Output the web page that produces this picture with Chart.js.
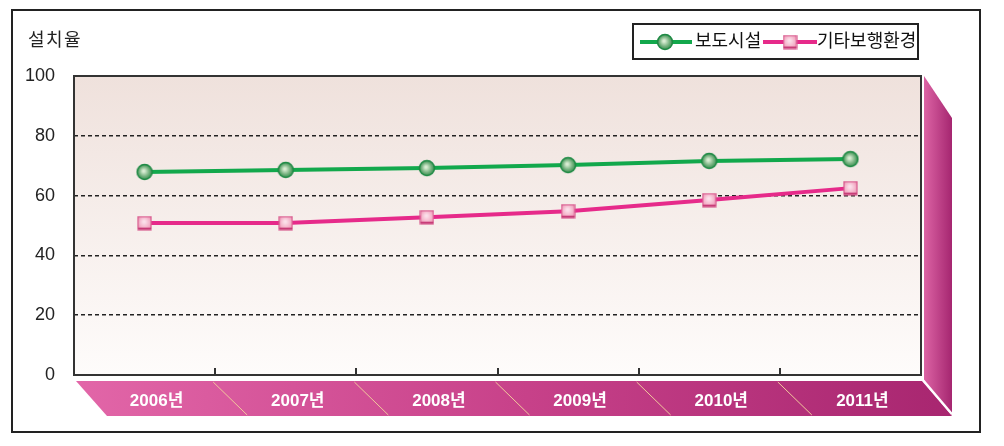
<!DOCTYPE html>
<html>
<head>
<meta charset="utf-8">
<script src="https://cdn.jsdelivr.net/npm/chart.js@4.4.0/dist/chart.umd.min.js"></script>
<style>
  html, body { margin: 0; padding: 0; background: #fff; }
  #wrap { width: 1004px; height: 446px; position: relative; }
</style>
</head>
<body>
<div id="wrap"><canvas id="chart" width="1004" height="446"></canvas></div>
<script>
// chart data
const years = ['2006년', '2007년', '2008년', '2009년', '2010년', '2011년'];
const sidewalk = [67.9, 68.6, 69.2, 70.2, 71.6, 72.2];
const otherEnv = [50.8, 50.8, 52.8, 54.8, 58.5, 62.5];
const yTicks = [0, 20, 40, 60, 80, 100];

const seriesNames = ['보도시설', '기타보행환경'];
const FONT = '"Liberation Sans", "Noto Sans CJK KR", sans-serif';

// marker images
function makeCircle() {
  const c = document.createElement('canvas');
  c.width = 18; c.height = 18;
  const g = c.getContext('2d');
  const grd = g.createRadialGradient(8, 8, 1, 9, 9, 8);
  grd.addColorStop(0, '#d8ecd2');
  grd.addColorStop(0.6, '#6fae7a');
  grd.addColorStop(1, '#2f8a4a');
  g.beginPath();
  g.arc(9, 9, 7.5, 0, Math.PI * 2);
  g.fillStyle = grd;
  g.fill();
  g.lineWidth = 1.5;
  g.strokeStyle = '#1e8a44';
  g.stroke();
  return c;
}
function makeSquare() {
  const c = document.createElement('canvas');
  c.width = 15; c.height = 15;
  const g = c.getContext('2d');
  const grd = g.createRadialGradient(7, 6, 1, 7.5, 7.5, 9);
  grd.addColorStop(0, '#fbe0ea');
  grd.addColorStop(0.7, '#f2a5c0');
  grd.addColorStop(1, '#e07aa0');
  g.fillStyle = grd;
  g.fillRect(1, 1, 13, 13);
  g.lineWidth = 1.2;
  g.strokeStyle = '#d85a8e';
  g.strokeRect(1, 1, 13, 13);
  g.fillStyle = '#c83c78';
  g.fillRect(1, 12, 13, 2);
  return c;
}
const circleImg = makeCircle();
const squareImg = makeSquare();

// frame, 3D faces, legend and title
const decorPlugin = {
  id: 'decor',
  beforeDraw(chart) {
    const { ctx, chartArea: a, scales } = chart;
    ctx.save();
    // outer frame
    ctx.strokeStyle = '#222';
    ctx.lineWidth = 2;
    ctx.strokeRect(12, 10, 968, 422);

    // plot background
    const bg = ctx.createLinearGradient(0, a.top, 0, a.bottom);
    bg.addColorStop(0, '#efe1dc');
    bg.addColorStop(1, '#fefcfb');
    ctx.fillStyle = bg;
    ctx.fillRect(a.left, a.top, a.right - a.left, a.bottom - a.top);

    // right face
    const rg = ctx.createLinearGradient(a.right, 0, a.right + 31, 0);
    rg.addColorStop(0, '#e26aaa');
    rg.addColorStop(1, '#a52670');
    ctx.fillStyle = rg;
    ctx.beginPath();
    ctx.moveTo(a.right + 3, a.top);
    ctx.lineTo(a.right + 31, a.top + 42);
    ctx.lineTo(a.right + 31, a.bottom + 40);
    ctx.lineTo(a.right + 3, a.bottom + 5);
    ctx.closePath();
    ctx.fill();

    // bottom face
    const bgr = ctx.createLinearGradient(a.left, 0, a.right + 31, 0);
    bgr.addColorStop(0, '#e266a8');
    bgr.addColorStop(0.5, '#c8428a');
    bgr.addColorStop(1, '#a82670');
    ctx.fillStyle = bgr;
    ctx.beginPath();
    ctx.moveTo(a.left + 2, a.bottom + 6);
    ctx.lineTo(a.right + 1, a.bottom + 6);
    ctx.lineTo(a.right + 31, a.bottom + 41);
    ctx.lineTo(a.left + 33, a.bottom + 41);
    ctx.closePath();
    ctx.fill();

    // edge between faces
    ctx.strokeStyle = '#ffffff';
    ctx.lineWidth = 2;
    ctx.beginPath();
    ctx.moveTo(a.right + 2, a.bottom + 5);
    ctx.lineTo(a.right + 31, a.bottom + 39);
    ctx.stroke();

    // separators in the bottom band
    const x = scales.x;
    ctx.strokeStyle = '#f2c89c';
    ctx.lineWidth = 1;
    for (let i = 1; i < years.length; i++) {
      const bx = (x.getPixelForValue(i - 1) + x.getPixelForValue(i)) / 2;
      ctx.beginPath();
      ctx.moveTo(bx - 2, a.bottom + 7);
      ctx.lineTo(bx + 32, a.bottom + 40);
      ctx.stroke();
    }
    ctx.restore();
  },
  afterDatasetsDraw(chart) {
    const { ctx, chartArea: a, scales } = chart;
    ctx.save();
    // plot border
    ctx.strokeStyle = '#333';
    ctx.lineWidth = 2;
    ctx.strokeRect(a.left, a.top, a.right - a.left, a.bottom - a.top);

    // category ticks pointing up
    const x = scales.x;
    ctx.lineWidth = 2;
    for (let i = 1; i < years.length; i++) {
      const bx = Math.round((x.getPixelForValue(i - 1) + x.getPixelForValue(i)) / 2);
      ctx.beginPath();
      ctx.moveTo(bx, a.bottom);
      ctx.lineTo(bx, a.bottom - 7);
      ctx.stroke();
    }

    // axis title
    ctx.fillStyle = '#222';
    ctx.font = '18px ' + FONT;
    ctx.textBaseline = 'middle';
    ctx.textAlign = 'left';
    ctx.letterSpacing = '1.5px';
    ctx.fillText('설치율', 28, 41);
    ctx.letterSpacing = '0px';

    // legend
    ctx.fillStyle = '#fff';
    ctx.fillRect(633, 24, 285, 35);
    ctx.strokeStyle = '#222';
    ctx.lineWidth = 2;
    ctx.strokeRect(633, 24, 285, 35);
    const items = [
      { color: '#12a84c', img: circleImg, x0: 640, x1: 692, mx: 665, tx: 695, label: seriesNames[0] },
      { color: '#e62a8a', img: squareImg, x0: 763, x1: 817, mx: 790, tx: 817, label: seriesNames[1] }
    ];
    items.forEach(it => {
      ctx.strokeStyle = it.color;
      ctx.lineWidth = 4;
      ctx.beginPath();
      ctx.moveTo(it.x0, 42);
      ctx.lineTo(it.x1, 42);
      ctx.stroke();
      ctx.drawImage(it.img, it.mx - it.img.width / 2, 42 - it.img.height / 2);
      ctx.fillStyle = '#111';
      ctx.font = '18px ' + FONT;
      ctx.fillText(it.label, it.tx, 42);
    });
    ctx.restore();
  }
};

new Chart(document.getElementById('chart'), {
  type: 'line',
  data: {
    labels: years,
    datasets: [{
      label: seriesNames[0],
      data: sidewalk,
      borderColor: '#12a84c',
      borderWidth: 4,
      pointStyle: circleImg,
      tension: 0
    }, {
      label: seriesNames[1],
      data: otherEnv,
      borderColor: '#e62a8a',
      borderWidth: 4,
      pointStyle: squareImg,
      tension: 0
    }]
  },
  options: {
    responsive: false,
    animation: false,
    layout: { padding: { top: 76, right: 83, left: 0, bottom: 0 } },
    plugins: {
      legend: { display: false },
      tooltip: { enabled: false }
    },
    scales: {
      x: {
        offset: true,
        grid: { display: false, drawTicks: false },
        border: { display: false },
        afterFit(scale) { scale.height = 71; },
        ticks: {
          color: '#ffffff',
          font: { family: FONT, size: 17, weight: 'bold' },
          padding: 16,
          labelOffset: 12
        }
      },
      y: {
        min: 0,
        max: 100,
        afterFit(scale) { scale.width = 74; },
        afterBuildTicks(scale) { scale.ticks = yTicks.map(v => ({ value: v })); },
        grid: {
          drawTicks: false,
          lineWidth: 1.5,
          color: c => (c.tick && (c.tick.value === 0 || c.tick.value === 100)) ? 'rgba(0,0,0,0)' : '#222'
        },
        border: { display: false, dash: [4, 3] },
        ticks: {
          color: '#222',
          font: { family: FONT, size: 18 },
          padding: 19
        }
      }
    }
  },
  plugins: [decorPlugin]
});
</script>
</body>
</html>
